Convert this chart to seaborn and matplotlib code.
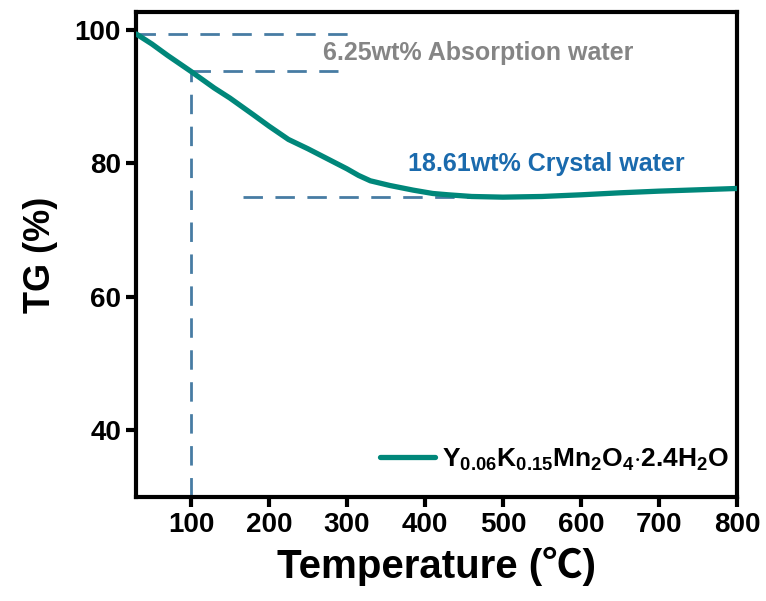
import numpy as np
import pandas as pd
import seaborn as sns
import matplotlib.pyplot as plt

# TG curve
temperature = [30, 50, 70, 100, 130, 150, 180, 200, 225, 250, 280, 300, 315, 330,
               355, 385, 410, 430, 460, 500, 550, 600, 650, 700, 750, 800]
tg = [99.4, 97.9, 96.2, 93.8, 91.3, 89.8, 87.3, 85.6, 83.6, 82.2, 80.4, 79.2, 78.2, 77.4,
      76.7, 76.0, 75.5, 75.3, 75.05, 74.95, 75.05, 75.3, 75.6, 75.85, 76.05, 76.25]

# reference levels for the mass-loss steps
level_start = 99.4
level_absorb = 93.8
level_crystal = 74.9
t_absorb = 100

label_absorb = "6.25wt% Absorption water"
label_crystal = "18.61wt% Crystal water"
legend_label = r"$\mathbf{Y_{0.06}K_{0.15}Mn_{2}O_{4}{\cdot}2.4H_{2}O}$"

df = pd.DataFrame({"Temperature": temperature, "TG": tg})

sns.set_style("ticks")
plt.rcParams["font.family"] = ["Liberation Sans", "Noto Sans CJK SC", "DejaVu Sans"]
plt.rcParams["font.weight"] = "bold"
plt.rcParams["text.color"] = "black"
plt.rcParams["axes.labelcolor"] = "black"
plt.rcParams["xtick.color"] = "black"
plt.rcParams["ytick.color"] = "black"
plt.rcParams["axes.edgecolor"] = "black"
plt.rcParams["mathtext.fontset"] = "custom"
plt.rcParams["mathtext.rm"] = "Liberation Sans:bold"
plt.rcParams["mathtext.bf"] = "Liberation Sans:bold"
plt.rcParams["mathtext.it"] = "Liberation Sans:bold"

fig = plt.figure(figsize=(7.66, 6.01), dpi=100)
ax = fig.add_axes([0.178, 0.173, 0.784, 0.807])

dash_color = "#477ca3"
dash_kw = dict(color=dash_color, lw=2, dashes=(7, 4.5), zorder=1)
ax.plot([30, 301], [level_start, level_start], **dash_kw)
ax.plot([t_absorb, 288], [level_absorb, level_absorb], **dash_kw)
ax.plot([t_absorb, t_absorb], [30, level_absorb], **dash_kw)
ax.plot([167, 483], [level_crystal, level_crystal], **dash_kw)

sns.lineplot(data=df, x="Temperature", y="TG", color="#00877a", lw=3.8,
             label=legend_label, ax=ax, zorder=3)

ax.text(269, 96.6, label_absorb, color="#858585", fontsize=18, fontweight="bold",
        va="center", ha="left")
ax.text(378, 79.9, label_crystal, color="#1a6aad", fontsize=18, fontweight="bold",
        va="center", ha="left")

ax.set_xlim(30, 800)
ax.set_ylim(30, 102.7)
ax.set_xticks([100, 200, 300, 400, 500, 600, 700, 800])
ax.set_yticks([40, 60, 80, 100])
ax.tick_params(axis="both", width=3, length=7, labelsize=20, pad=4)
for lab in ax.get_xticklabels() + ax.get_yticklabels():
    lab.set_fontweight("bold")
for sp in ax.spines.values():
    sp.set_linewidth(3)

ax.set_xlabel("Temperature (℃)", fontsize=29, fontweight="bold", labelpad=6)
ax.set_ylabel("TG (%)", fontsize=26, fontweight="bold", labelpad=12)

leg = ax.legend(loc="lower right", bbox_to_anchor=(1.018, 0.012), frameon=False,
                fontsize=19, handlelength=2.1, handletextpad=0.25, borderaxespad=0.3)

fig.savefig("out.png", dpi=100)
